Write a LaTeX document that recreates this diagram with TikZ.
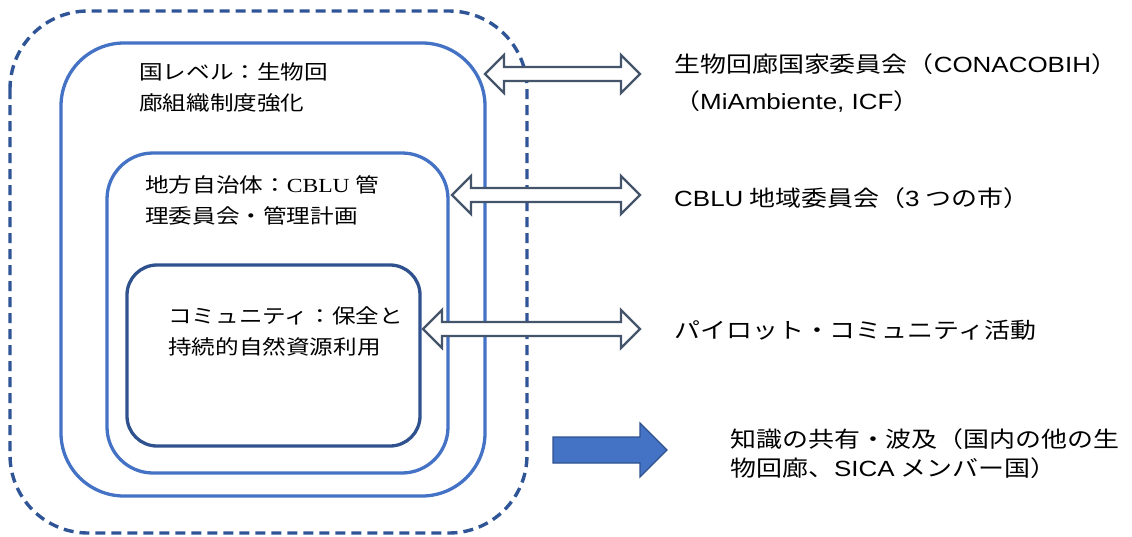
\documentclass[tikz,border=0pt]{standalone}
\usepackage{fontspec}
\setmainfont{Noto Sans CJK JP}[FakeStretch=1.18]
\newfontfamily\lat{Liberation Sans}[FakeStretch=1.18]
\newfontfamily\tms{Liberation Serif}[FakeStretch=1.18]
\definecolor{dashblue}{RGB}{47,85,151}
\definecolor{boxblue}{RGB}{68,114,196}
\definecolor{darkbox}{RGB}{47,82,143}
\definecolor{slate}{RGB}{68,84,106}
\definecolor{fillblue}{RGB}{68,114,196}
\tikzset{
  outerbox/.style={draw=dashblue, line width=3.4pt, dash pattern=on 10pt off 6pt, rounded corners=78pt},
  levelbox/.style={draw=boxblue, line width=3.3pt},
  innerbox/.style={draw=darkbox, line width=3.3pt},
  dblarrow/.style={draw=slate, line width=2.4pt, fill=white, line join=miter},
  bigarrow/.style={draw=darkbox, line width=1.2pt, fill=fillblue},
  lefttext/.style={anchor=north west, inner sep=0pt, align=left, font=\fontsize{20}{31.5}\selectfont},
  righttext/.style={anchor=north west, inner sep=0pt, align=left, font=\fontsize{22}{37}\selectfont},
}
\begin{document}
\begin{tikzpicture}[x=1pt,y=-1pt]
\useasboundingbox (0,0) rectangle (1132,536);
% boxes
\draw[outerbox] (10,11) rectangle (527,533);
\draw[levelbox, rounded corners=63pt] (61,43) rectangle (485,496);
\draw[levelbox, rounded corners=46pt] (107,153) rectangle (448,473);
\draw[innerbox, rounded corners=30pt] (127,265) rectangle (420,446);
% left texts
\node[lefttext] (nat) at (139,62) {国レベル：生物回\\廊組織制度強化};
\node[lefttext] (mun) at (145,175) {地方自治体：{\tms CBLU} 管\\理委員会・管理計画};
\node[lefttext] (com) at (168,306) {コミュニティ：保全と\\持続的自然資源利用};
% double arrows
\newcommand{\dblarrowpath}[3]{% left tip x, right tip x, center y
  \draw[dblarrow] (#1,#3) -- ++(19,-19) -- ++(0,12) -- (#2-19,#3-7) -- ++(0,-12) -- (#2,#3)
    -- ++(-19,19) -- ++(0,-12) -- (#1+19,#3+7) -- ++(0,12) -- cycle;}
\dblarrowpath{485}{640}{74}
\dblarrowpath{452}{640}{195}
\dblarrowpath{423}{640}{329}
% filled arrow
\draw[bigarrow] (553,437) -- (640,437) -- (640,423) -- (667,450) -- (640,477) -- (640,463) -- (553,463) -- cycle;
% right texts
\node[righttext] (conac) at (674,53) {生物回廊国家委員会（{\lat CONACOBIH}）\\（{\lat MiAmbiente, ICF}）};
\node[righttext] (cblu) at (674,187) {{\lat CBLU} 地域委員会（{\lat 3} つの市）};
\node[righttext] (pilot) at (674,320) {パイロット・コミュニティ活動};
\node[righttext, font=\fontsize{22}{29}\selectfont] (know) at (730,428) {知識の共有・波及（国内の他の生\\物回廊、{\lat SICA} メンバー国）};
\end{tikzpicture}
\end{document}
